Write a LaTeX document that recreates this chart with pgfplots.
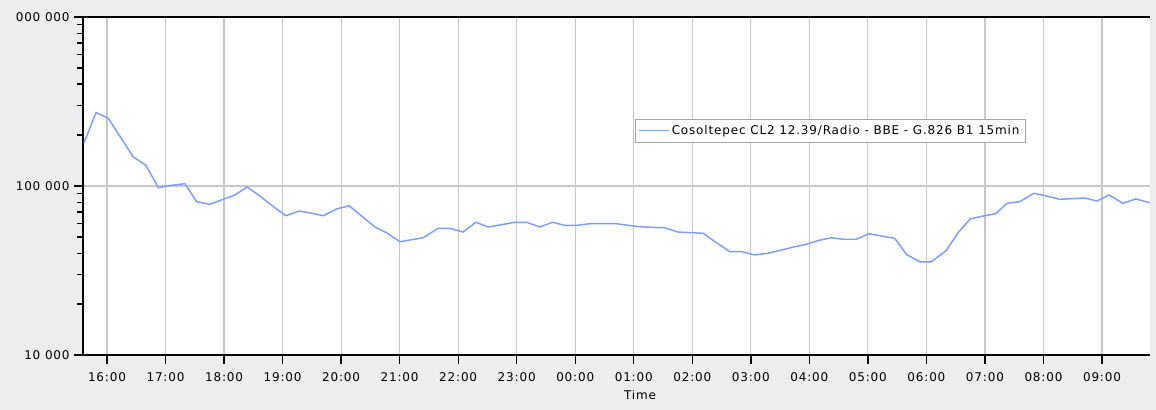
\documentclass[border=0pt]{standalone}
\usepackage{pgfplots}
\pgfplotsset{compat=1.18}
\usepackage{fontspec}
\setmainfont{DejaVu Sans}[LetterSpace=7]
\definecolor{bgc}{RGB}{238,236,239}
\definecolor{linec}{RGB}{125,158,255}
\definecolor{gridc}{RGB}{200,200,200}
\begin{document}
\begin{tikzpicture}
\fill[bgc] (0,0) rectangle (867pt,307.5pt);
\begin{axis}[
  at={(62.25pt,41.25pt)}, anchor=south west,
  width=800.25pt, height=253.5pt, scale only axis,
  ymode=log, ymin=1e4, ymax=1e6,
  xmin=-0.41, xmax=17.82,
  axis background/.style={fill=white},
  axis x line=bottom, axis y line=left, axis line style={-, black, line width=0.9pt},
  xtick={0,...,17},
  xticklabels={16:00,17:00,18:00,19:00,20:00,21:00,22:00,23:00,00:00,01:00,02:00,03:00,04:00,05:00,06:00,07:00,08:00,09:00},
  ytick={1e4,1e5,1e6},
  yticklabels={10 000,100 000,000 000},
  yminorticks=true,
  minor ytick={2e4,3e4,4e4,5e4,6e4,7e4,8e4,9e4,2e5,3e5,4e5,5e5,6e5,7e5,8e5,9e5},
  tick align=outside,
  major tick length=6.5pt, minor tick length=4.5pt,
  xtick style={black, line width=1pt},
  ytick style={black, line width=1.1pt},
  xmajorgrids, ymajorgrids,
  grid style={gridc, line width=0.9pt},
  font=\fontsize{9}{11}\selectfont,
  tick label style={font=\fontsize{9}{11}\selectfont},
  xticklabel style={yshift=-3pt},
  xlabel={Time},
  xlabel style={at={(axis description cs:0.522,-0.118)}, anchor=center, font=\fontsize{9}{11}\selectfont},
  legend style={at={(0.5173,0.698)}, anchor=north west, draw=gray!70, fill=white,
    font=\fontsize{9}{11}\selectfont, inner sep=2.5pt, row sep=0pt},
  legend image code/.code={\draw[#1, line width=0.9pt] (0pt,0pt) -- (22pt,0pt);},
  clip=false,
]
\addplot[linec, line width=1.1pt] coordinates {
(-0.393,180000) (-0.188,271600) (0.022,251600) (0.449,148500) (0.666,132600)
(0.876,97700) (1.105,101000) (1.332,103200) (1.532,80800) (1.759,77900)
(1.986,83500) (2.186,88500) (2.396,98600) (2.613,87300) (2.813,76900)
(3.057,66700) (3.284,71100) (3.496,69000) (3.694,66700) (3.923,73100)
(4.138,76400) (4.577,57200) (4.777,52900) (5.004,46800) (5.402,49400)
(5.658,56200) (5.858,56200) (6.085,53400) (6.302,61000) (6.512,57200)
(6.741,59000) (6.968,61000) (7.168,61000) (7.395,57200) (7.612,61000)
(7.822,58500) (8.022,58500) (8.249,59800) (8.705,59800) (8.989,58000)
(9.160,57200) (9.530,56600) (9.757,53400) (10.184,52500) (10.413,46200)
(10.640,40900) (10.840,40900) (11.067,39100) (11.294,40000) (11.523,41800)
(11.750,43700) (11.950,45200) (12.166,47700) (12.377,49400) (12.576,48400)
(12.805,48400) (13.020,52200) (13.232,50600) (13.459,49000) (13.659,39400)
(13.886,35600) (14.085,35600) (14.341,41600) (14.540,52900) (14.752,64000)
(14.967,66400) (15.184,68600) (15.377,79000) (15.594,80800) (15.838,90500)
(16.050,87300) (16.277,83400) (16.477,84100) (16.704,84900) (16.914,81500)
(17.119,88500) (17.358,79000) (17.575,83800) (17.814,79700)
};
\addlegendentry{Cosoltepec CL2 12.39/Radio - BBE - G.826 B1 15min}
\draw[black, line width=0.9pt] (rel axis cs:0,1) -- (rel axis cs:1,1);
\end{axis}
\pgfresetboundingbox
\useasboundingbox (0,0) rectangle (867pt,307.5pt);
\end{tikzpicture}
\end{document}
